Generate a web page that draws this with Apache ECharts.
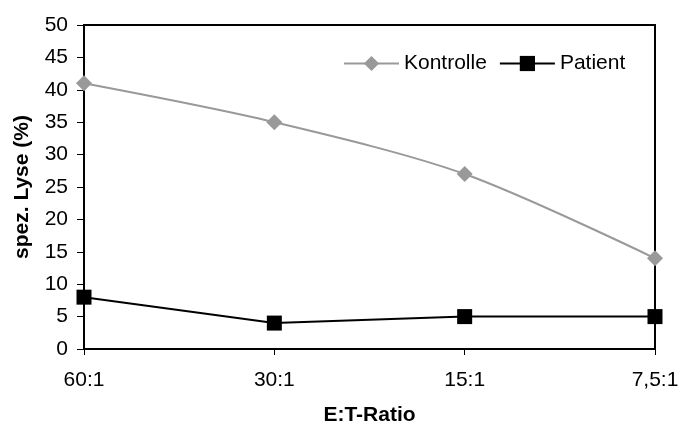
<!DOCTYPE html>
<html><head><meta charset="utf-8">
<script src="https://cdn.jsdelivr.net/npm/echarts@6/dist/echarts.min.js"></script>
<style>html,body{margin:0;padding:0;background:#fff}#c{width:678px;height:428px}</style>
</head><body><div id="c"></div>
<script>
const categories = ['60:1', '30:1', '15:1', '7,5:1'];
const kontrolle = [41, 35, 27, 14];
const patient = [8, 4, 5, 5];
const yTicks = {min: 0, max: 50, interval: 5};

const chart = echarts.init(document.getElementById('c'));
const font = 'Liberation Sans, Arial, sans-serif';
chart.setOption({
  animation: false,
  textStyle: {fontFamily: font},
  grid: {left: 84, right: 23, top: 25, bottom: 79, outerBoundsMode: 'none', containLabel: false,
    show: true, borderColor: '#000', borderWidth: 2, backgroundColor: 'transparent'},
  legend: {
    left: 338, top: 48, itemWidth: 55, itemHeight: 19, itemGap: 12,
    textStyle: {fontSize: 21, color: '#000', fontFamily: font},
    data: ['Kontrolle', 'Patient']
  },
  xAxis: {
    type: 'category', data: categories, boundaryGap: false,
    name: 'E:T-Ratio', nameLocation: 'middle', nameGap: 56,
    nameTextStyle: {fontSize: 21, fontWeight: 'bold', color: '#000', fontFamily: font},
    axisLine: {lineStyle: {color: '#000', width: 2}},
    axisTick: {show: true, length: 6, lineStyle: {color: '#000', width: 1}},
    axisLabel: {fontSize: 21, color: '#000', margin: 21, fontFamily: font},
    splitLine: {show: false}
  },
  yAxis: {
    type: 'value', min: yTicks.min, max: yTicks.max, interval: yTicks.interval,
    name: 'spez. Lyse (%)', nameLocation: 'middle', nameGap: 51, nameRotate: 90,
    nameTextStyle: {fontSize: 21, fontWeight: 'bold', color: '#000', fontFamily: font},
    axisLine: {show: true, lineStyle: {color: '#000', width: 2}},
    axisTick: {show: true, length: 7, lineStyle: {color: '#000', width: 1}},
    axisLabel: {fontSize: 21, color: '#000', margin: 16, fontFamily: font},
    splitLine: {show: false}
  },
  series: [
    {name: 'Kontrolle', type: 'line', data: kontrolle, symbol: 'diamond', symbolSize: 16,
      lineStyle: {color: '#999999', width: 2}, itemStyle: {color: '#999999'}, smooth: 0.3},
    {name: 'Patient', type: 'line', data: patient, symbol: 'rect', symbolSize: 15,
      lineStyle: {color: '#000', width: 2}, itemStyle: {color: '#000'}}
  ]
});
</script></body></html>
